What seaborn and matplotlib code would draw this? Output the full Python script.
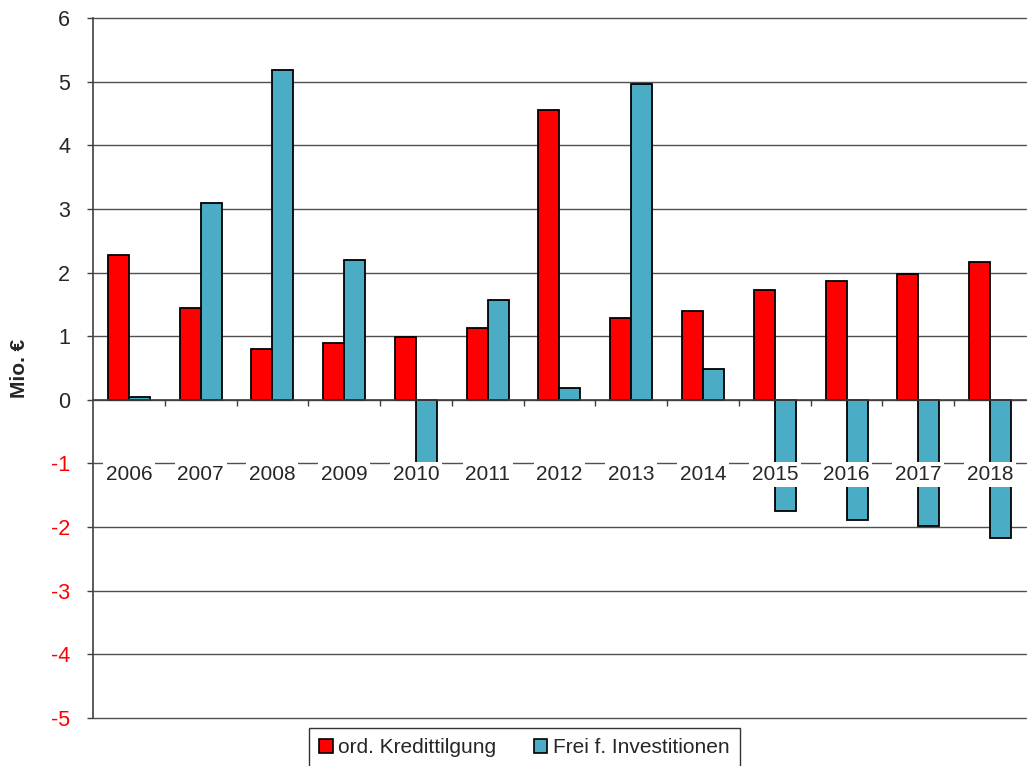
import matplotlib
matplotlib.use('Agg')
import matplotlib.pyplot as plt
import seaborn as sns
import pandas as pd
import numpy as np

# values (Mio. €)
years = ["2006", "2007", "2008", "2009", "2010", "2011", "2012",
         "2013", "2014", "2015", "2016", "2017", "2018"]
tilgung = [2.27, 1.45, 0.80, 0.90, 0.98, 1.13, 4.55, 1.28, 1.40, 1.73, 1.87, 1.97, 2.17]
frei = [0.05, 3.10, 5.19, 2.19, -1.00, 1.57, 0.19, 4.97, 0.49, -1.74, -1.89, -1.98, -2.17]
series = ["ord. Kredittilgung", "Frei f. Investitionen"]
colors = ["#FF0000", "#4BACC6"]
y_ticks = list(range(-5, 7))

sns.set_theme(style="white")
plt.rcParams['font.family'] = ['Liberation Sans', 'DejaVu Sans']

df = pd.DataFrame({
    "Jahr": years * 2,
    "Wert": tilgung + frei,
    "Serie": [series[0]] * len(years) + [series[1]] * len(years),
})

fig, ax = plt.subplots(figsize=(10.28, 7.66), dpi=100)
fig.subplots_adjust(left=0.0905, right=0.998, bottom=0.0627, top=0.9765)

sns.barplot(data=df, x="Jahr", y="Wert", hue="Serie", palette=colors,
            width=0.585, saturation=1, edgecolor="black", linewidth=1.3,
            ax=ax)

ax.set_ylim(-5, 6)
ax.set_xlim(-0.5, len(years) - 0.5)
ax.set_yticks(y_ticks, labels=[str(t) for t in y_ticks])
for lab, t in zip(ax.get_yticklabels(), y_ticks):
    if t < 0:
        lab.set_color("#FF0000")
ax.tick_params(axis="y", which="major", direction="out", length=4.5,
               width=1, color="#404040", pad=12, labelsize=15.5, left=True)

# grid below bars, category labels above them
ax.yaxis.grid(True, color="#505050", linewidth=1)
ax.xaxis.grid(False)
ax.set_axisbelow(True)
ax.xaxis.set_zorder(3)
for gl in ax.yaxis.get_gridlines():
    gl.set_clip_on(False)

ax.spines["top"].set_visible(False)
ax.spines["right"].set_visible(False)
ax.spines["bottom"].set_position(("data", 0))
ax.spines["bottom"].set_color("#404040")
ax.spines["left"].set_color("#404040")
ax.spines["bottom"].set_linewidth(1.2)
ax.spines["left"].set_linewidth(1.2)

ax.set_xticks(np.arange(0.5, len(years) - 1, 1.0), minor=True)
ax.tick_params(axis="x", which="minor", direction="out", length=4,
               width=1, color="#404040", bottom=True)
ax.tick_params(axis="x", which="major", length=0, pad=47, labelsize=15)
for lab in ax.get_xticklabels():
    lab.set_bbox(dict(facecolor="white", edgecolor="none", pad=2))

ax.set_xlabel("")
ax.set_ylabel("Mio. €", fontsize=15, fontweight="bold")
ax.yaxis.set_label_coords(-0.069, 0.5)

ax.get_legend().remove()
handles = [plt.Rectangle((0, 0), 1, 1, facecolor=c, edgecolor="black", linewidth=1.2)
           for c in colors]
leg = fig.legend(handles, series, loc="upper center", bbox_to_anchor=(0.51, 0.0496),
                 ncol=2, frameon=True, fancybox=False, fontsize=15,
                 handlelength=0.65, handleheight=0.65, handletextpad=0.25,
                 columnspacing=1.8, borderpad=0.5, borderaxespad=0)
leg.get_frame().set_edgecolor("black")
leg.get_frame().set_linewidth(1)

fig.savefig("out.png", dpi=100)
